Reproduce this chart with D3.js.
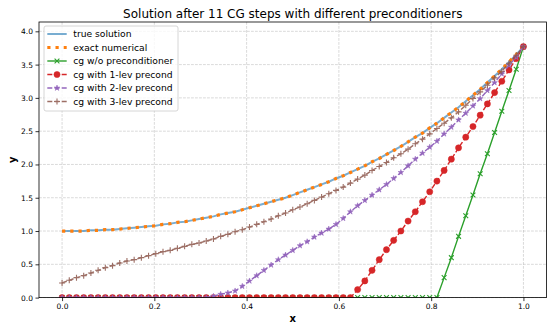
<!DOCTYPE html>
<html>
<head>
<meta charset="utf-8">
<script src="https://cdn.jsdelivr.net/npm/d3@7"></script>
<style>
  body { margin: 0; background: #fff; }
  text { font-family: "DejaVu Sans", sans-serif; fill: #000; }
</style>
</head>
<body>
<svg id="chart" width="555" height="333"></svg>
<script>
// grid: 64 intervals on [0, 1]
const nIntervals = 64;
const xs = d3.range(nIntervals + 1).map(i => i / nIntervals);

const xTicks = [0, 0.2, 0.4, 0.6, 0.8, 1.0];
const yTicks = [0, 0.5, 1.0, 1.5, 2.0, 2.5, 3.0, 3.5, 4.0];

// values
const exactValues = [1.00, 1.00, 1.00, 1.00, 1.01, 1.01, 1.02, 1.02, 1.03, 1.04,
  1.05, 1.06, 1.07, 1.08, 1.10, 1.11, 1.13, 1.14, 1.16, 1.18,
  1.20, 1.22, 1.25, 1.27, 1.29, 1.32, 1.35, 1.38, 1.41, 1.44,
  1.47, 1.50, 1.54, 1.58, 1.62, 1.66, 1.70, 1.74, 1.79, 1.83,
  1.88, 1.93, 1.98, 2.04, 2.09, 2.15, 2.21, 2.27, 2.34, 2.41,
  2.47, 2.55, 2.62, 2.70, 2.78, 2.86, 2.95, 3.04, 3.13, 3.23,
  3.33, 3.43, 3.54, 3.65, 3.77];

const cgNoPrecond = [0, 0, 0, 0, 0, 0, 0, 0, 0, 0,
  0, 0, 0, 0, 0, 0, 0, 0, 0, 0,
  0, 0, 0, 0, 0, 0, 0, 0, 0, 0,
  0, 0, 0, 0, 0, 0, 0, 0, 0, 0,
  0, 0, 0, 0, 0, 0, 0, 0, 0, 0,
  0, 0, 0, 0.30, 0.60, 0.92, 1.23, 1.54, 1.86, 2.16,
  2.48, 2.80, 3.11, 3.43, 3.77];

const cgLev1 = [0, 0, 0, 0, 0, 0, 0, 0, 0, 0,
  0, 0, 0, 0, 0, 0, 0, 0, 0, 0,
  0, 0, 0, 0, 0, 0, 0, 0, 0, 0,
  0, 0, 0, 0, 0, 0, 0, 0, 0, 0,
  0, 0.12, 0.25, 0.41, 0.57, 0.72, 0.86, 1.00, 1.15, 1.29,
  1.44, 1.59, 1.75, 1.91, 2.08, 2.25, 2.41, 2.57, 2.74, 2.91,
  3.08, 3.25, 3.42, 3.59, 3.77];

const cgLev2 = [0, 0, 0, 0, 0, 0, 0, 0, 0, 0,
  0, 0, 0, 0, 0, 0, 0, 0, 0, 0,
  0, 0.02, 0.05, 0.07, 0.10, 0.17, 0.25, 0.33, 0.41, 0.49,
  0.57, 0.64, 0.71, 0.78, 0.84, 0.91, 0.97, 1.03, 1.10, 1.19,
  1.29, 1.38, 1.46, 1.54, 1.62, 1.70, 1.79, 1.88, 1.98, 2.08,
  2.17, 2.26, 2.35, 2.46, 2.56, 2.67, 2.77, 2.88, 2.99, 3.11,
  3.23, 3.36, 3.49, 3.61, 3.77];

const cgLev3 = [0.22, 0.26, 0.30, 0.33, 0.37, 0.41, 0.45, 0.48, 0.52, 0.55,
  0.57, 0.60, 0.63, 0.66, 0.69, 0.71, 0.74, 0.77, 0.80, 0.82,
  0.85, 0.88, 0.92, 0.95, 0.99, 1.02, 1.06, 1.10, 1.14, 1.18,
  1.23, 1.27, 1.32, 1.36, 1.41, 1.46, 1.51, 1.56, 1.61, 1.66,
  1.72, 1.78, 1.84, 1.91, 1.97, 2.03, 2.10, 2.16, 2.23, 2.31,
  2.38, 2.46, 2.54, 2.62, 2.70, 2.79, 2.89, 2.99, 3.09, 3.19,
  3.30, 3.40, 3.52, 3.64, 3.77];

const seriesLabels = ["true solution", "exact numerical", "cg w/o preconditioner",
  "cg with 1-lev precond", "cg with 2-lev precond", "cg with 3-lev precond"];

// plot styles (matplotlib tab10)
const series = [
  { label: seriesLabels[0], values: exactValues, color: "#1f77b4", width: 2, dash: null, opacity: 0.6, marker: null },
  { label: seriesLabels[1], values: exactValues, color: "#ff7f0e", width: 3.2, dash: "3.2,5", opacity: 1, marker: null },
  { label: seriesLabels[2], values: cgNoPrecond, color: "#2ca02c", width: 1.4, dash: null, opacity: 1, marker: "x" },
  { label: seriesLabels[3], values: cgLev1, color: "#d62728", width: 1.4, dash: "5,2.2", opacity: 1, marker: "circle" },
  { label: seriesLabels[4], values: cgLev2, color: "#9467bd", width: 1.4, dash: "5,2.2", opacity: 1, marker: "star" },
  { label: seriesLabels[5], values: cgLev3, color: "#8c564b", width: 1.4, dash: "5,2.2", opacity: 0.85, marker: "plus" }
];

const width = 555;
const height = 333;
const margin = { top: 22, right: 8.5, bottom: 35.4, left: 39 };

const svg = d3.select("#chart");
svg.append("rect").attr("width", width).attr("height", height).attr("fill", "#fff");

const xScale = d3.scaleLinear()
  .domain([-0.05, 1.05])
  .range([margin.left, width - margin.right]);

const yScale = d3.scaleLinear()
  .domain([0, 4.14])
  .range([height - margin.bottom, margin.top]);

// clip to the axes area
svg.append("defs").append("clipPath").attr("id", "plotclip")
  .append("rect")
  .attr("x", margin.left).attr("y", margin.top)
  .attr("width", width - margin.left - margin.right)
  .attr("height", height - margin.top - margin.bottom);

// grid
const grid = svg.append("g").attr("stroke", "#b0b0b0").attr("stroke-opacity", 0.6)
  .attr("stroke-width", 0.8).attr("stroke-dasharray", "2.8,1.2");
grid.selectAll(".gx").data(xTicks).enter().append("line")
  .attr("x1", d => xScale(d)).attr("x2", d => xScale(d))
  .attr("y1", margin.top).attr("y2", height - margin.bottom);
grid.selectAll(".gy").data(yTicks).enter().append("line")
  .attr("y1", d => yScale(d)).attr("y2", d => yScale(d))
  .attr("x1", margin.left).attr("x2", width - margin.right);

// markers
function markerPath(kind) {
  if (kind === "circle") return d3.symbol(d3.symbolCircle, 30)();
  if (kind === "star") return d3.symbol(d3.symbolStar, 10)();
  if (kind === "plus") return "M-3,0H3M0,-3V3";
  if (kind === "x") return "M-2.4,-2.4L2.4,2.4M-2.4,2.4L2.4,-2.4";
  return null;
}
const filledMarker = k => k === "circle" || k === "star";

const line = d3.line()
  .x(d => xScale(d[0]))
  .y(d => yScale(d[1]));

const plot = svg.append("g").attr("clip-path", "url(#plotclip)");

series.forEach(s => {
  const pts = xs.map((x, i) => [x, s.values[i]]);
  const g = plot.append("g").attr("opacity", s.opacity);
  g.append("path")
    .datum(pts)
    .attr("d", line)
    .attr("fill", "none")
    .attr("stroke", s.color)
    .attr("stroke-width", s.width)
    .attr("stroke-dasharray", s.dash);
  if (s.marker) {
    g.selectAll(".m").data(pts).enter().append("path")
      .attr("transform", d => "translate(" + xScale(d[0]) + "," + yScale(d[1]) + ")")
      .attr("d", markerPath(s.marker))
      .attr("fill", filledMarker(s.marker) ? s.color : "none")
      .attr("stroke", s.color)
      .attr("stroke-width", filledMarker(s.marker) ? 0.5 : 1.1);
  }
});

// axes
const xAxis = svg.append("g")
  .attr("transform", "translate(0," + (height - margin.bottom) + ")")
  .call(d3.axisBottom(xScale).tickValues(xTicks).tickFormat(d3.format(".1f"))
    .tickSize(3.5).tickPadding(2.5));
const yAxis = svg.append("g")
  .attr("transform", "translate(" + margin.left + ",0)")
  .call(d3.axisLeft(yScale).tickValues(yTicks).tickFormat(d3.format(".1f"))
    .tickSize(3.5).tickPadding(2.5));
[xAxis, yAxis].forEach(a => {
  a.select(".domain").remove();
  a.selectAll("text").attr("font-size", "7.5px").attr("font-family", "DejaVu Sans").attr("fill", "#000");
  a.selectAll("line").attr("stroke", "#000").attr("stroke-width", 0.8);
});

// frame
svg.append("rect")
  .attr("x", margin.left).attr("y", margin.top)
  .attr("width", width - margin.left - margin.right)
  .attr("height", height - margin.top - margin.bottom)
  .attr("fill", "none").attr("stroke", "#000").attr("stroke-width", 0.8);

// title and axis labels
svg.append("text")
  .attr("x", (margin.left + width - margin.right) / 2).attr("y", 17.5)
  .attr("text-anchor", "middle").attr("font-size", "12px")
  .text("Solution after 11 CG steps with different preconditioners");
svg.append("text")
  .attr("x", (margin.left + width - margin.right) / 2).attr("y", 321.5)
  .attr("text-anchor", "middle").attr("font-size", "10px").attr("font-weight", "bold")
  .text("x");
svg.append("text")
  .attr("transform", "translate(15.5," + ((margin.top + height - margin.bottom) / 2) + ") rotate(-90)")
  .attr("text-anchor", "middle").attr("font-size", "10px").attr("font-weight", "bold")
  .text("y");

// legend
const legend = svg.append("g").attr("transform", "translate(44,26)");
legend.append("rect")
  .attr("width", 134).attr("height", 85).attr("rx", 2)
  .attr("fill", "#fff").attr("fill-opacity", 0.8)
  .attr("stroke", "#cccccc").attr("stroke-width", 0.8);
series.forEach((s, k) => {
  const cy = 8 + k * 13.5;
  const row = legend.append("g").attr("transform", "translate(0," + cy + ")");
  const h = row.append("g").attr("opacity", s.opacity);
  h.append("line")
    .attr("x1", 3.3).attr("x2", 22.7).attr("y1", 0).attr("y2", 0)
    .attr("stroke", s.color).attr("stroke-width", s.width)
    .attr("stroke-dasharray", s.dash);
  if (s.marker) {
    h.append("path")
      .attr("transform", "translate(13,0)")
      .attr("d", markerPath(s.marker))
      .attr("fill", filledMarker(s.marker) ? s.color : "none")
      .attr("stroke", s.color)
      .attr("stroke-width", filledMarker(s.marker) ? 0.5 : 1.1);
  }
  row.append("text")
    .attr("x", 29.3).attr("y", 3.3)
    .attr("font-size", "9.2px")
    .text(s.label);
});
</script>
</body>
</html>
